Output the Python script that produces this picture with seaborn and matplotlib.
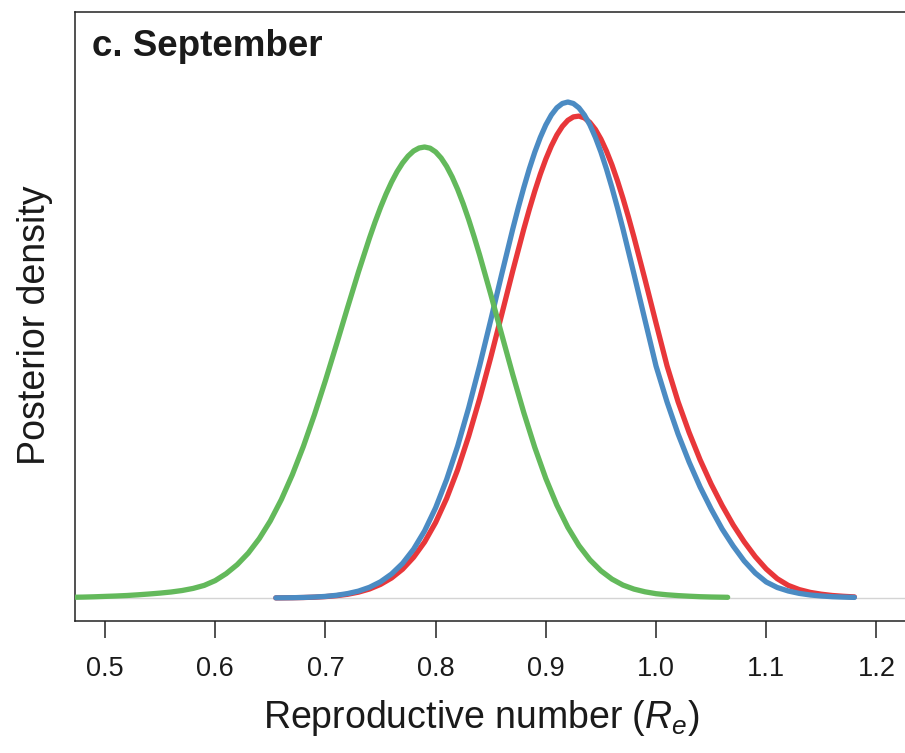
import numpy as np
import pandas as pd
import matplotlib
matplotlib.use("Agg")
import matplotlib.pyplot as plt
import seaborn as sns

# ---- data ----
green_x = [0.47, 0.48, 0.49, 0.50, 0.51, 0.52, 0.53, 0.54, 0.55, 0.56, 0.57, 0.58, 0.59,
           0.60, 0.61, 0.62, 0.63, 0.64, 0.65, 0.66, 0.67, 0.68, 0.69, 0.70, 0.71, 0.72,
           0.73, 0.74, 0.745, 0.75, 0.755, 0.76, 0.765, 0.77, 0.775, 0.78, 0.785, 0.79,
           0.795, 0.80, 0.805, 0.81, 0.815, 0.82, 0.825, 0.83, 0.835, 0.84, 0.85,
           0.86, 0.87, 0.88, 0.89, 0.90, 0.91, 0.92, 0.93, 0.94, 0.95, 0.96, 0.97, 0.98,
           0.99, 1.00, 1.01, 1.02, 1.03, 1.04, 1.05, 1.06, 1.065]
green_y = [0.007, 0.009, 0.012, 0.016, 0.020, 0.025, 0.032, 0.040, 0.049, 0.060, 0.075, 0.096, 0.126,
           0.174, 0.244, 0.334, 0.449, 0.594, 0.771, 0.984, 1.233, 1.516, 1.832, 2.174, 2.534, 2.901,
           3.261, 3.600, 3.758, 3.905, 4.039, 4.159, 4.263, 4.350, 4.419, 4.470, 4.500, 4.510,
           4.498, 4.461, 4.400, 4.316, 4.211, 4.086, 3.943, 3.784, 3.611, 3.428, 3.038,
           2.634, 2.234, 1.854, 1.505, 1.195, 0.929, 0.706, 0.525, 0.382, 0.272, 0.189, 0.129, 0.089,
           0.062, 0.043, 0.032, 0.024, 0.018, 0.013, 0.010, 0.008, 0.007]

blue_x = [0.655, 0.66, 0.67, 0.68, 0.69, 0.70, 0.71, 0.72, 0.73, 0.74, 0.75, 0.76, 0.77, 0.78,
          0.79, 0.80, 0.81, 0.82, 0.83, 0.84, 0.85, 0.86,
          0.87, 0.875, 0.88, 0.885, 0.89, 0.895, 0.90, 0.905, 0.91, 0.915, 0.92, 0.925,
          0.93, 0.935, 0.94, 0.945, 0.95, 0.955, 0.96, 0.965, 0.97,
          0.98, 0.99, 1.00, 1.01, 1.02, 1.03, 1.04, 1.05, 1.06,
          1.07, 1.08, 1.09, 1.10, 1.11, 1.12, 1.13, 1.14, 1.15, 1.16, 1.17, 1.18]
blue_y = [0.0015, 0.002, 0.003, 0.0055, 0.0095, 0.016, 0.027, 0.044, 0.069, 0.107, 0.162, 0.240, 0.346, 0.488,
          0.671, 0.902, 1.185, 1.519, 1.902, 2.326, 2.778, 3.239,
          3.690, 3.903, 4.104, 4.291, 4.459, 4.606, 4.731, 4.830, 4.902, 4.945, 4.960, 4.945,
          4.902, 4.830, 4.731, 4.606, 4.459, 4.291, 4.104, 3.903, 3.690,
          3.239, 2.778, 2.320, 1.960, 1.640, 1.360, 1.110, 0.890, 0.690,
          0.520, 0.370, 0.250, 0.160, 0.105, 0.070, 0.046, 0.030, 0.020, 0.013, 0.009, 0.006]

red_x = [0.655, 0.66, 0.67, 0.68, 0.69, 0.70, 0.71, 0.72, 0.73, 0.74, 0.75, 0.76, 0.77, 0.78,
         0.79, 0.80, 0.81, 0.82, 0.83, 0.84, 0.85, 0.86, 0.87,
         0.88, 0.885, 0.89, 0.895, 0.90, 0.905, 0.91, 0.915, 0.92, 0.925, 0.93,
         0.935, 0.94, 0.945, 0.95, 0.955, 0.96, 0.965, 0.97, 0.975, 0.98,
         0.99, 1.00, 1.01, 1.02, 1.03, 1.04, 1.05, 1.06,
         1.07, 1.08, 1.09, 1.10, 1.11, 1.12, 1.13, 1.14, 1.15, 1.16, 1.17, 1.18]
red_y = [0.0012, 0.0015, 0.0027, 0.0048, 0.0083, 0.014, 0.023, 0.037, 0.0585, 0.090, 0.136, 0.200, 0.288, 0.407,
         0.560, 0.755, 0.996, 1.283, 1.618, 1.995, 2.405, 2.836, 3.271,
         3.689, 3.885, 4.069, 4.238, 4.389, 4.520, 4.630, 4.716, 4.777, 4.811, 4.819,
         4.801, 4.755, 4.685, 4.589, 4.470, 4.331, 4.172, 3.997, 3.808, 3.608,
         3.185, 2.749, 2.321, 1.963, 1.656, 1.382, 1.140, 0.925,
         0.731, 0.562, 0.414, 0.290, 0.193, 0.126, 0.084, 0.056, 0.038, 0.025, 0.017, 0.011]

x_ticks = [0.5, 0.6, 0.7, 0.8, 0.9, 1.0, 1.1, 1.2]
tick_labels = ["0.5", "0.6", "0.7", "0.8", "0.9", "1.0", "1.1", "1.2"]
series_order = ["red", "blue", "green"]
palette = {"red": "#E8373A", "blue": "#4B8BC3", "green": "#63B95B"}

df = pd.concat([
    pd.DataFrame({"Re": red_x, "density": red_y, "series": "red"}),
    pd.DataFrame({"Re": blue_x, "density": blue_y, "series": "blue"}),
    pd.DataFrame({"Re": green_x, "density": green_y, "series": "green"}),
], ignore_index=True)

# ---- style ----
sns.set_theme(style="white")
plt.rcParams["font.family"] = ["Liberation Sans", "DejaVu Sans"]
plt.rcParams["mathtext.fontset"] = "custom"
plt.rcParams["mathtext.rm"] = "Liberation Sans"
plt.rcParams["mathtext.it"] = "Liberation Sans:italic"

W, H = 905, 753
fig = plt.figure(figsize=(W / 100, H / 100), dpi=100)
ax_left, ax_right, ax_top, ax_bot = 75, 930, 12, 621
ax = fig.add_axes([ax_left / W, (H - ax_bot) / H, (ax_right - ax_left) / W, (ax_bot - ax_top) / H])

ax.axhline(0, color="#d4d4d4", lw=1.0, zorder=1)

sns.lineplot(data=df, x="Re", y="density", hue="series", hue_order=series_order,
             palette=palette, estimator=None, sort=True, linewidth=3.8,
             legend=False, ax=ax, zorder=3)
for line in ax.get_lines()[1:]:
    line.set_solid_capstyle("round")
    line.set_solid_joinstyle("round")

ax.set_xlim(0.47278, 1.2486)
ax.set_ylim(-0.23, 5.86)

for side in ["left", "top", "bottom"]:
    ax.spines[side].set_visible(True)
    ax.spines[side].set_color("#222222")
    ax.spines[side].set_linewidth(1.1)
ax.spines["right"].set_visible(False)

ax.set_xticks(x_ticks)
ax.set_xticklabels(tick_labels)
ax.set_yticks([])
ax.tick_params(axis="x", direction="out", length=12, width=1.1, color="#222222",
               labelsize=19.5, pad=13, labelcolor="#1a1a1a", bottom=True)

ax.set_xlabel("Reproductive number ($R_e$)", fontsize=27, color="#1a1a1a")
ax.xaxis.set_label_coords((481 - ax_left) / (ax_right - ax_left), (ax_bot - 728) / (ax_bot - ax_top))
ax.xaxis.label.set_verticalalignment("baseline")

ax.set_ylabel("Posterior density", fontsize=27, color="#1a1a1a")
ax.yaxis.set_label_coords((35 - ax_left) / (ax_right - ax_left), (ax_bot - 325) / (ax_bot - ax_top))
ax.yaxis.label.set_verticalalignment("center")

fig.text(92 / W, (H - 56) / H, "c. September", fontsize=26.5, fontweight="bold",
         color="#1a1a1a", ha="left", va="baseline")

fig.savefig("out.png", dpi=100, facecolor="white")
